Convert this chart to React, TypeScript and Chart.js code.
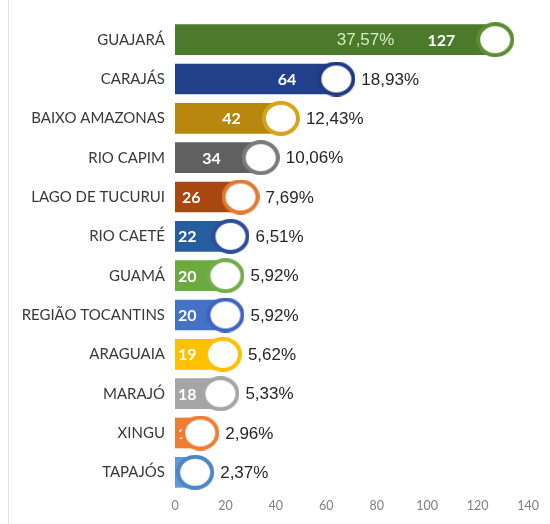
import React, { useEffect, useRef } from "react";
import { Chart, registerables } from "chart.js";

Chart.register(...registerables);

const categories = [
  "GUAJARÁ",
  "CARAJÁS",
  "BAIXO AMAZONAS",
  "RIO CAPIM",
  "LAGO DE TUCURUI",
  "RIO CAETÉ",
  "GUAMÁ",
  "REGIÃO TOCANTINS",
  "ARAGUAIA",
  "MARAJÓ",
  "XINGU",
  "TAPAJÓS",
];
const values = [127, 64, 42, 34, 26, 22, 20, 20, 19, 18, 10, 8];
const percentLabels = [
  "37,57%", "18,93%", "12,43%", "10,06%", "7,69%", "6,51%",
  "5,92%", "5,92%", "5,62%", "5,33%", "2,96%", "2,37%",
];
const barColors = [
  "#4B7A2A", "#223F8C", "#B8870E", "#606060", "#A8470F", "#255E9F",
  "#6BAA3E", "#4472C4", "#FFC000", "#A5A5A5", "#ED7D31", "#5B9BD5",
];
const ringColors = [
  "#5E8C34", "#1F3A80", "#D4A419", "#7A7A7A", "#E07A30", "#2C4D9A",
  "#72AE48", "#3F63C0", "#FFC000", "#A5A5A5", "#ED7D31", "#4C86C8",
];
const xMin = 0;
const xMax = 140;
const xStep = 20;

function makeRing(color: string): HTMLCanvasElement {
  const w = 38;
  const h = 35;
  const c = document.createElement("canvas");
  c.width = w;
  c.height = h;
  const g = c.getContext("2d")!;
  const bw = 4;
  g.beginPath();
  g.ellipse(w / 2, h / 2, w / 2 - bw / 2, h / 2 - bw / 2, 0, 0, Math.PI * 2);
  g.fillStyle = "#ffffff";
  g.fill();
  g.lineWidth = bw;
  g.strokeStyle = color;
  g.stroke();
  return c;
}

const labelPlugin = {
  id: "barLabels",
  afterDatasetDraw(chart: any, args: any) {
    if (args.index !== 1) return;
    const ctx = chart.ctx;
    const meta = chart.getDatasetMeta(1);
    const left = chart.chartArea.left;
    ctx.save();
    ctx.font = "bold 16px Lato";
    ctx.fillStyle = "#ffffff";
    ctx.textBaseline = "middle";
    ctx.textAlign = "right";
    meta.data.forEach((el: any, i: number) => {
      const txt = String(values[i]);
      const w = ctx.measureText(txt).width;
      const right = Math.max(el.x - 40, left + 3 + w);
      ctx.fillText(txt, right, el.y + 1);
    });
    ctx.restore();
  },
  afterDatasetsDraw(chart: any) {
    const ctx = chart.ctx;
    const meta = chart.getDatasetMeta(1);
    ctx.save();
    ctx.textBaseline = "middle";
    meta.data.forEach((el: any, i: number) => {
      const txt = percentLabels[i];
      if (values[i] > 100) {
        ctx.font = "bold 16px Lato";
        const vw = ctx.measureText(String(values[i])).width;
        const vRight = el.x - 40;
        ctx.font = "17px 'Liberation Sans'";
        ctx.fillStyle = "#d6e9c6";
        ctx.textAlign = "right";
        ctx.fillText(txt, vRight - vw - 33, el.y + 1);
      } else {
        ctx.font = "17px 'Liberation Sans'";
        ctx.fillStyle = "#262626";
        ctx.textAlign = "left";
        ctx.fillText(txt, el.x + 25, el.y + 1);
      }
    });
    ctx.restore();
  },
};

export default function App() {
  const ref = useRef<HTMLCanvasElement>(null);
  useEffect(() => {
    if (!ref.current) return;
    const rings = ringColors.map(makeRing);
    const chart = new Chart(ref.current, {
      type: "bar",
      data: {
        labels: categories,
        datasets: [
          {
            type: "line",
            data: values,
            showLine: false,
            pointStyle: rings,
            pointRadius: 18,
            pointHoverRadius: 18,
            order: 0,
          } as any,
          {
            type: "bar",
            data: values,
            backgroundColor: barColors,
            barThickness: 30,
            order: 1,
          },
        ],
      },
      options: {
        indexAxis: "y",
        responsive: false,
        animation: false,
        events: [],
        layout: { padding: { top: 20, right: 22, left: 0, bottom: 0 } },
        plugins: {
          legend: { display: false },
          tooltip: { enabled: false },
        },
        scales: {
          x: {
            min: xMin,
            max: xMax,
            grid: { display: false, drawTicks: false },
            border: { display: false },
            ticks: {
              stepSize: xStep,
              color: "#7f7f7f",
              font: { family: "Lato", size: 12.5 },
              padding: 6,
            },
            afterFit: (s: any) => {
              s.height = 32;
            },
          },
          y: {
            grid: { display: false, drawTicks: false },
            border: { display: false },
            ticks: {
              color: "#383838",
              font: { family: "Lato", size: 15 },
              padding: 10,
              autoSkip: false,
            },
            afterFit: (s: any) => {
              s.width = 175;
            },
          },
        },
      },
      plugins: [labelPlugin],
    });
    return () => chart.destroy();
  }, []);
  return (
    <div style={{ position: "absolute", left: 0, top: 0, width: 550, height: 524, background: "#fff" }}>
      <div style={{ position: "absolute", left: 8, top: 0, width: 1, height: 524, background: "#e4e4e4" }} />
      <canvas ref={ref} width={550} height={524} style={{ position: "absolute", left: 0, top: 0 }} />
    </div>
  );
}
